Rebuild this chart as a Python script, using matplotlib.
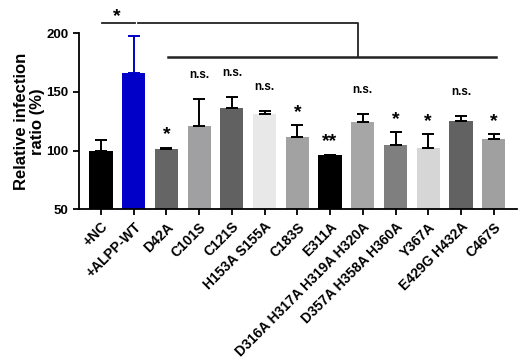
import matplotlib
matplotlib.use('Agg')
import matplotlib.pyplot as plt

plt.rcParams['font.family'] = ['Liberation Sans', 'DejaVu Sans']
plt.rcParams['font.weight'] = 'bold'

# datos
grupos = ['+NC', '+ALPP-WT', 'D42A', 'C101S', 'C121S', 'H153A S155A', 'C183S',
          'E311A', 'D316A H317A H319A H320A', 'D357A H358A H360A', 'Y367A',
          'E429G H432A', 'C467S']
medias = [100, 166, 101, 121, 136, 131, 112, 96, 124, 105, 102, 125, 110]
errores = [9, 32, 1.5, 23, 10, 3, 10, 0.5, 7, 10.5, 12, 4.5, 4]
signif = ['', '', '*', 'n.s.', 'n.s.', 'n.s.', '*', '**', 'n.s.', '*', '*', 'n.s.', '*']
colores = ['#000000', '#0000c8', '#656565', '#a0a0a3', '#616161', '#e8e8e8', '#a2a2a2',
           '#000000', '#a6a6a6', '#7f7f7f', '#d6d6d6', '#626262', '#a0a0a0']

fig = plt.figure(figsize=(5.29, 3.61), dpi=100)
ax = fig.add_axes([0.1493, 0.4202, 0.828, 0.4876])

x = list(range(len(grupos)))
ax.bar(x, medias, width=0.71, color=colores, zorder=2)
for i in x:
    ec = '#0000c8' if i == 1 else 'black'
    ax.errorbar(i, medias[i], yerr=[[0], [errores[i]]], fmt='none', ecolor=ec,
                elinewidth=1.4, capsize=4, capthick=1.4, zorder=3)

# etiquetas de significancia
for i in x:
    if signif[i] == '':
        continue
    tope = medias[i] + errores[i]
    if signif[i] == 'n.s.':
        ax.text(i, tope + 18, 'n.s.', ha='center', va='baseline', fontsize=8.5,
                fontweight='bold')
    else:
        ax.text(i, tope + 7, signif[i], ha='center', va='baseline', fontsize=14,
                fontweight='bold')

# corchetes de comparacion
ax.plot([0.02, 1.04], [208.6, 208.6], color='#222222', lw=1.3, clip_on=False)
ax.plot([1.13, 7.85, 7.85], [208.6, 208.6, 180], color='#222222', lw=1.3, clip_on=False)
ax.plot([2.05, 12.07], [180, 180], color='#222222', lw=1.8, clip_on=False)
ax.text(0.5, 210, '*', ha='center', va='baseline', fontsize=14, fontweight='bold',
        clip_on=False)

ax.set_xlim(-0.67, 12.71)
ax.set_ylim(50, 200)
ax.set_yticks([50, 100, 150, 200])
ax.set_xticks(x)
ax.set_xticklabels(grupos, rotation=45, ha='right', rotation_mode='anchor',
                   fontsize=10, fontweight='bold')
ax.tick_params(axis='y', labelsize=9.5, width=1.3, length=4)
ax.tick_params(axis='x', width=1.3, length=4)
for lbl in ax.get_yticklabels():
    lbl.set_fontweight('bold')
ax.spines['top'].set_visible(False)
ax.spines['right'].set_visible(False)
ax.spines['left'].set_linewidth(1.3)
ax.spines['bottom'].set_linewidth(1.3)
ax.set_ylabel('Relative infection\nratio (%)', fontsize=12, fontweight='bold',
              linespacing=1.1, labelpad=1)

fig.savefig('out.png', dpi=100)
